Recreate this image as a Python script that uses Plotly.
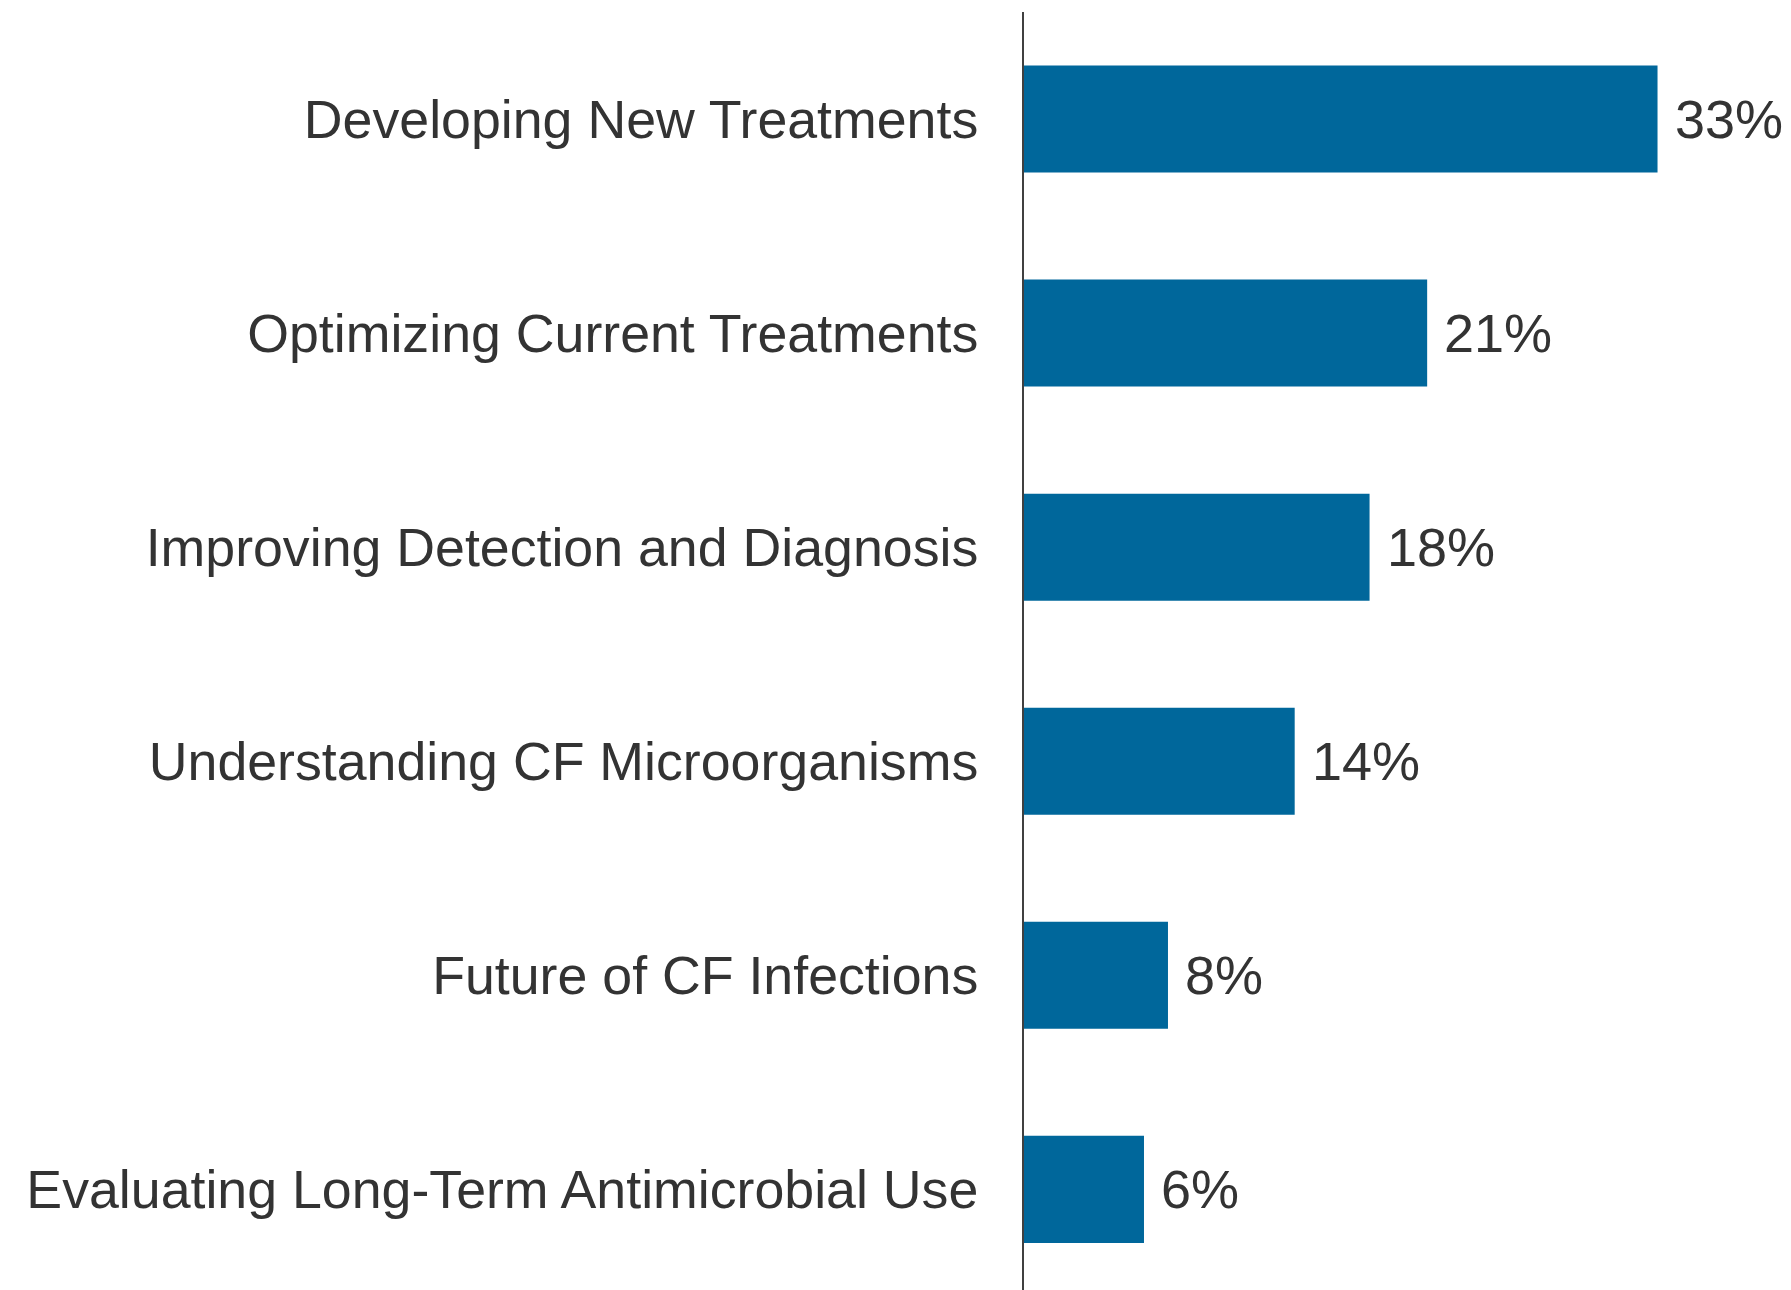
import plotly.graph_objects as go

categories = [
    "Developing New Treatments",
    "Optimizing Current Treatments",
    "Improving Detection and Diagnosis",
    "Understanding CF Microorganisms",
    "Future of CF Infections",
    "Evaluating Long-Term Antimicrobial Use",
]
values = [33, 21, 18, 14.1, 7.5, 6.25]
value_labels = ["33%", "21%", "18%", "14%", "8%", "6%"]

BAR_COLOR = "#00679B"
TEXT_COLOR = "#333333"
FONT = "Liberation Sans, Arial, sans-serif"

fig = go.Figure(
    go.Bar(
        x=values,
        y=categories,
        orientation="h",
        marker=dict(color=BAR_COLOR, line=dict(width=0)),
        width=0.5,
        hoverinfo="skip",
    )
)

for cat, v, lab in zip(categories, values, value_labels):
    fig.add_annotation(
        x=v, y=cat, xref="x", yref="y", text=lab, showarrow=False,
        xanchor="left", yanchor="middle", xshift=15,
        font=dict(size=54, color=TEXT_COLOR, family=FONT),
    )

fig.update_layout(
    width=1783, height=1282,
    margin=dict(l=1016, r=1, t=4, b=0),
    plot_bgcolor="white", paper_bgcolor="white",
    showlegend=False,
    font=dict(family=FONT, color=TEXT_COLOR, size=54),
    xaxis=dict(range=[0, 39.9], visible=False, showgrid=False, zeroline=False),
    yaxis=dict(
        type="category", categoryorder="array", categoryarray=categories,
        range=[5.47, -0.5], showgrid=False, zeroline=False,
        showline=True, linecolor="#404040", linewidth=2,
        ticks="", ticklabelstandoff=33,
        tickfont=dict(size=53.7, color=TEXT_COLOR, family=FONT),
    ),
)

fig.write_html("out.html")
